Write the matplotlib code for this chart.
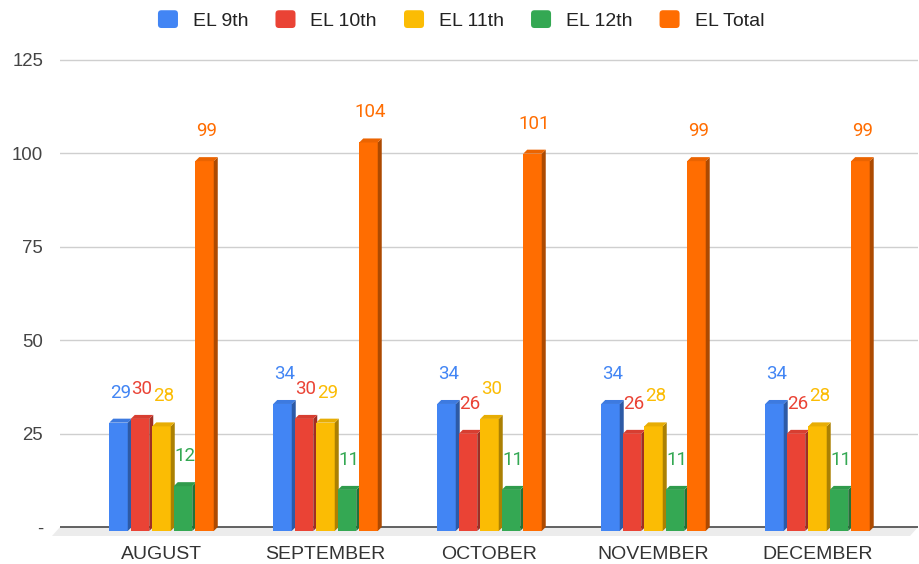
import matplotlib
matplotlib.use("Agg")
import matplotlib.pyplot as plt
from matplotlib.patches import Polygon, Rectangle, Patch, FancyBboxPatch
from matplotlib.legend_handler import HandlerBase
import matplotlib.colors as mcolors
import numpy as np

# ---- data ----
months = ["AUGUST", "SEPTEMBER", "OCTOBER", "NOVEMBER", "DECEMBER"]
series_names = ["EL 9th", "EL 10th", "EL 11th", "EL 12th", "EL Total"]
el_9th = [29, 34, 34, 34, 34]
el_10th = [30, 30, 26, 26, 26]
el_11th = [28, 29, 30, 28, 28]
el_12th = [12, 11, 11, 11, 11]
el_total = [99, 104, 101, 99, 99]
colors = ["#4285F4", "#EA4335", "#FBBC04", "#34A853", "#FF6D01"]
y_ticks = [0, 25, 50, 75, 100, 125]
y_tick_labels = ["-", "25", "50", "75", "100", "125"]

series = [el_9th, el_10th, el_11th, el_12th, el_total]

W, H = 919, 564
fig = plt.figure(figsize=(W / 100, H / 100), dpi=100)
ax_l, ax_r, ax_t, ax_b = 60, 918, 50, 540
ax = fig.add_axes([ax_l / W, (H - ax_b) / H, (ax_r - ax_l) / W, (ax_b - ax_t) / H])

xlim = (-0.619, 4.613)
ylim = (-13 / 3.736, 125 + 10 / 3.736)
ax.set_xlim(*xlim)
ax.set_ylim(*ylim)
ppx = (ax_r - ax_l) / (xlim[1] - xlim[0])   # pixels per x unit
ppy = (ax_b - ax_t) / (ylim[1] - ylim[0])   # pixels per y unit

for s in ax.spines.values():
    s.set_visible(False)

# gridlines
for t in y_ticks[1:]:
    ax.axhline(t, color="#cfcfcf", lw=1.0, zorder=0)

# floor
fdx, fdy = 8 / ppx, 9 / ppy
floor = Polygon([(xlim[0], 0), (xlim[1], 0), (xlim[1] - fdx, -fdy), (xlim[0] - fdx, -fdy)],
                closed=True, facecolor="#ececec", edgecolor="none", zorder=1, clip_on=False)
ax.add_patch(floor)
ax.axhline(0, color="#555555", lw=1.3, zorder=2)

# 3D bars
dx, dy = 4 / ppx, 4 / ppy
pitch = 21.5 / ppx
bw = 18.5 / ppx
x = np.arange(len(months))


def shade(c, f):
    r, g, b = mcolors.to_rgb(c)
    return (r * f, g * f, b * f)


for i, (vals, col) in enumerate(zip(series, colors)):
    for j, v in enumerate(vals):
        x0 = x[j] + (i - 2) * pitch - bw / 2
        z = 3 + i * 0.01
        ax.add_patch(Rectangle((x0, -dy), bw, v, facecolor=col, edgecolor="none", zorder=z))
        ax.add_patch(Polygon([(x0 + bw, -dy), (x0 + bw + dx, 0), (x0 + bw + dx, v), (x0 + bw, v - dy)],
                             closed=True, facecolor=shade(col, 0.68), edgecolor="none", zorder=z))
        ax.add_patch(Polygon([(x0, v - dy), (x0 + dx, v), (x0 + bw + dx, v), (x0 + bw, v - dy)],
                             closed=True, facecolor=shade(col, 0.92), edgecolor="none", zorder=z))
        ax.text(x0 + (bw + dx) / 2, v + 7.0, str(v), color=col, ha="center", va="center",
                fontsize=13.5, family="Roboto", zorder=5)

# axes ticks
ax.set_yticks(y_ticks)
ax.set_yticklabels(y_tick_labels, family="Liberation Sans", fontsize=13.4, color="#444444")
ax.set_xticks(x)
ax.set_xticklabels(months, family="Liberation Sans", fontsize=14, color="#333333")
ax.tick_params(axis="y", length=0, pad=12.2)
ax.tick_params(axis="x", length=0, pad=4.3)


# legend with rounded squares
class RoundSquareHandler(HandlerBase):
    def create_artists(self, legend, orig_handle, xdescent, ydescent, width, height, fontsize, trans):
        p = FancyBboxPatch((-xdescent, -ydescent), width, height,
                           boxstyle="round,pad=0,rounding_size=2.5",
                           facecolor=orig_handle.get_facecolor(), edgecolor="none", transform=trans)
        return [p]


handles = [Patch(facecolor=c, edgecolor="none") for c in colors]
fig.legend(handles, series_names, loc="center", bbox_to_anchor=(461 / W, 1 - 20 / H),
           ncol=5, frameon=False, prop={"family": "Liberation Sans", "size": 14},
           handlelength=1.03, handleheight=1.03, handletextpad=0.77, columnspacing=1.39,
           labelcolor="#222222", handler_map={Patch: RoundSquareHandler()})

fig.savefig("out.png", dpi=100)
